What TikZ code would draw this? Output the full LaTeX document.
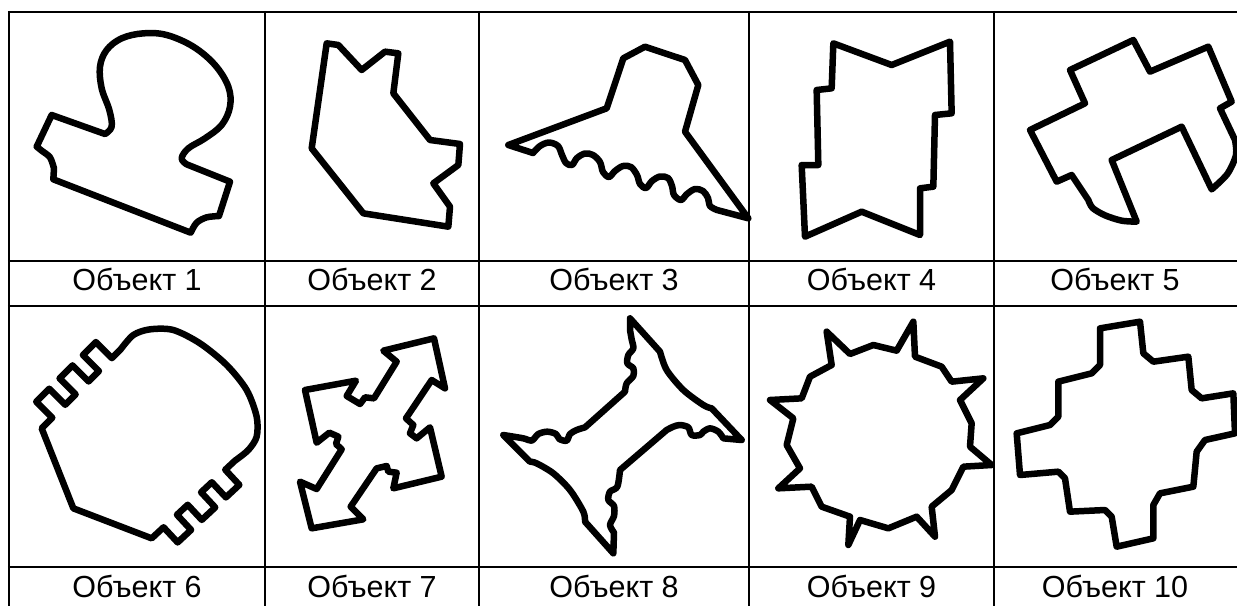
\documentclass[tikz,border=0pt]{standalone}
\usepackage{fontspec}
\setmainfont{Liberation Sans}
\begin{document}
\begin{tikzpicture}[x=1pt,y=-1pt,
  grid/.style={line width=2.4pt},
  outline/.style={line width=6.5pt,line join=round,line cap=round},
  lbl/.style={font=\fontsize{30.5}{36}\selectfont,anchor=base,inner sep=0pt},
  zoomed/.style={shift={#1},scale=1/3}]
\useasboundingbox[fill=white] (0,0) rectangle (1237,606);
% table grid
\foreach \yy in {12,261,306,567} \draw[grid] (7.8,\yy) -- (1237,\yy);
\foreach \xx in {9,265,479,749,994} \draw[grid] (\xx,10.8) -- (\xx,606);
% labels
\node[lbl] (l1) at (137,290) {Объект 1};
\node[lbl] (l2) at (372,290) {Объект 2};
\node[lbl] (l3) at (614,290) {Объект 3};
\node[lbl] (l4) at (871.5,290) {Объект 4};
\node[lbl] (l5) at (1115,290) {Объект 5};
\node[lbl] (l6) at (137,597) {Объект 6};
\node[lbl] (l7) at (372,597) {Объект 7};
\node[lbl] (l8) at (614,597) {Объект 8};
\node[lbl] (l9) at (871.5,597) {Объект 9};
\node[lbl] (l10) at (1115,597) {Объект 10};
% Object 1
\begin{scope}[zoomed={(0,0)}]
\draw[outline] (155,345) -- (315,402) -- plot[smooth,tension=0.6] coordinates {(315,402) (335,380) (328,330) (305,265) (300,200) (320,150) (365,115) (430,100) (500,105) (580,140) (645,195) (685,260) (690,320) (665,375) (615,415) (565,445) (545,475) (560,493)} -- (690,545) -- (657,648) -- plot[smooth] coordinates {(657,648) (620,652) (590,668) (572,698)} -- (160,538) -- (162,505) -- plot[smooth] coordinates {(162,505) (150,472) (125,452) (110,440)} -- cycle;
\end{scope}
% Object 2
\begin{scope}[zoomed={(250,0)}]
\draw[outline] (230,130) -- (265,135) -- (335,210) -- (405,155) -- (445,160) -- (430,280) -- (540,420) -- (630,432) -- (625,495) -- (550,550) -- (600,620) -- (595,680) -- (340,640) -- (185,445) -- cycle;
\end{scope}
% Object 3
\draw[outline] (508.3,145) -- (606.7,108.3) -- (623.3,58.3) -- (645,46.7) -- (685,60) -- (698.3,85) -- (685,131.7) -- (748.3,218.3) -- (717,210)
 -- plot[smooth,tension=0.55] coordinates {(717,210) (710,206) (708,198) (703,191) (695,189) (687,194) (681,200) (674,195) (672,186) (668,178) (660,176.5) (652,181) (646,188) (640,184) (637,175) (631,167) (623,166) (615,171) (609,177) (603,172) (600,162) (593,155) (585,153.5) (577,158) (572,165) (566,163) (562,155) (558,146) (549,142.5) (540,146) (533,153)} -- cycle;
% Object 4
\begin{scope}[zoomed={(760,0)}]
\draw[outline] (220,130) -- (395,195) -- (570,125) -- (575,340) -- (525,345) -- (520,560) -- (480,565) -- (480,705) -- (305,635) -- (135,710) -- (125,495) -- (175,495) -- (170,270) -- (215,265) -- cycle;
\end{scope}
% Object 5
\begin{scope}[zoomed={(990,0)}]
\draw[outline] (240,210) -- (430,120) -- (480,215) -- (655,140) -- (725,305) -- (690,325) -- (735,420) -- plot[smooth] coordinates {(735,420) (738,465) (712,522) (665,568)} -- (575,380) -- (365,480) -- (440,665) -- plot[smooth] coordinates {(440,665) (395,662) (345,646) (308,624) (295,600)} -- (245,525) -- (200,545) -- (120,390) -- (285,310) -- cycle;
\end{scope}
% Object 6
\begin{scope}[zoomed={(0,290)}]
\draw[outline] (125,415) -- ++(-45:45)
 -- ++(-135:68) -- ++(-45:55) -- ++(45:68) -- ++(-45:44)
 -- ++(-135:68) -- ++(-45:55) -- ++(45:68) -- ++(-45:44)
 -- ++(-135:68) -- ++(-45:55) -- ++(45:68) -- ++(-45:36)
 -- plot[smooth] coordinates {(362,178) (400,135) (450,118) (520,120) (600,160) (680,225) (740,300) (770,380) (770,440) (745,480) (705,512)}
 -- ++(137:40)
 -- ++(47:62) -- ++(137:55) -- ++(-133:62) -- ++(137:44)
 -- ++(47:62) -- ++(137:55) -- ++(-133:62) -- ++(137:44)
 -- ++(47:62) -- ++(137:55) -- ++(-133:62)
 -- (455,745) -- (220,655) -- cycle;
\end{scope}
% Object 7
\begin{scope}[zoomed={(250,290)}]
\draw[outline] (165,300) -- (318,272) -- (290,318) -- (330,342) -- (345,322) -- (372,325) -- (440,215) -- (400,182) -- (552,145) -- (585,295) -- (545,270) -- (468,385) -- (490,405) -- (480,430) -- (500,445) -- (540,412) -- (575,560) -- (430,595) -- (440,548) -- (415,545) -- (410,528) -- (380,535) -- (302,650) -- (340,688) -- (185,715) -- (150,575) -- (200,597) -- (275,478) -- (258,462) -- (265,440) -- (238,428) -- (200,458) -- cycle;
\end{scope}
% Object 8
\begin{scope}[zoomed={(470,290)}]
\draw[outline] (480,85) -- (570,185) -- plot[smooth] coordinates {(570,185) (590,240) (640,300) (700,345) (725,355)} -- (815,450) -- plot[smooth] coordinates {(760,445) (745,425) (720,415) (700,425) (690,435) (665,435) (655,412) (630,405) (610,410) (590,420)} -- (450,540) -- plot[smooth] coordinates {(450,540) (442,590) (420,605) (415,630) (432,648) (432,678) (420,705) (432,728)} -- (430,790) -- (345,695) -- plot[smooth] coordinates {(345,695) (340,665) (300,600) (250,550) (200,520) (180,515)} -- (100,435) -- plot[smooth] coordinates {(100,435) (160,445) (185,452) (205,432) (232,425) (258,432) (268,447) (290,452) (300,432) (320,420) (345,412)} -- (465,305) -- plot[smooth] coordinates {(465,305) (470,280) (490,258) (490,235) (472,220) (475,195) (490,175) (485,148) (480,120)} -- cycle;
\end{scope}
% Object 9
\begin{scope}[zoomed={(760,290)}]
\draw[outline] (200,125) -- (270,192) -- (340,165) -- (410,182) -- (460,95) -- (465,200) -- (545,230) -- (575,275) -- (670,265) -- (600,330) -- (635,400) -- (630,470) -- (695,525) -- (610,530) -- (575,600) -- (515,650) -- (525,740) -- (470,680) -- (385,715) -- (300,690) -- (265,765) -- (270,680) -- (185,650) -- (155,590) -- (55,595) -- (120,535) -- (80,465) -- (100,385) -- (30,330) -- (125,325) -- (150,260) -- (215,225) -- cycle;
\end{scope}
% Object 10
\begin{scope}[zoomed={(990,290)}]
\draw[outline] (330,115) -- (450,95) -- (460,190) -- (490,215) -- (595,200) -- (605,300) -- (635,325) -- (730,310) -- (735,430) -- (645,450) -- (620,485) -- (610,590) -- (510,610) -- (490,645) -- (490,745) -- (380,770) -- (365,680) -- (345,660) -- (240,665) -- (225,565) -- (205,545) -- (90,555) -- (80,430) -- (180,405) -- (205,380) -- (205,275) -- (305,250) -- (330,225) -- cycle;
\end{scope}
\end{tikzpicture}
\end{document}
